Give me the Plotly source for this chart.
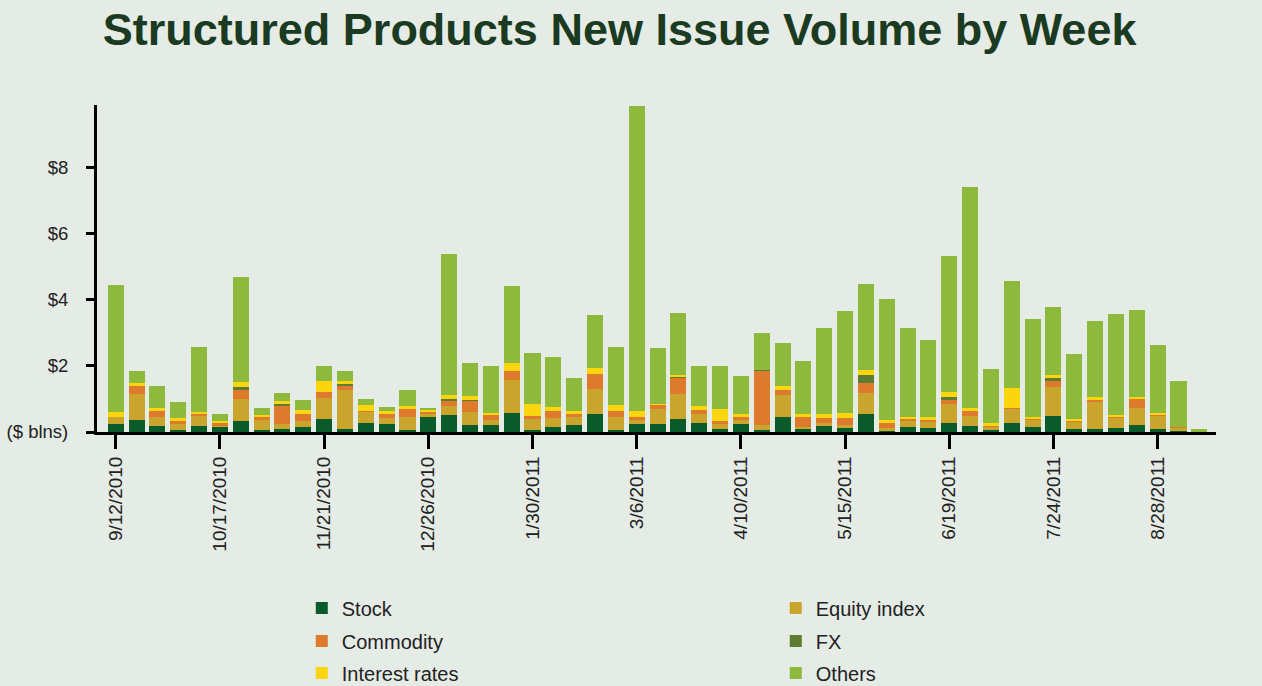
import plotly.graph_objects as go

weeks = [
    "9/12/2010", "9/19/2010", "9/26/2010", "10/3/2010", "10/10/2010", "10/17/2010", "10/24/2010",
    "10/31/2010", "11/7/2010", "11/14/2010", "11/21/2010", "11/28/2010", "12/5/2010", "12/12/2010",
    "12/19/2010", "12/26/2010", "1/2/2011", "1/9/2011", "1/16/2011", "1/23/2011", "1/30/2011",
    "2/6/2011", "2/13/2011", "2/20/2011", "2/27/2011", "3/6/2011", "3/13/2011", "3/20/2011",
    "3/27/2011", "4/3/2011", "4/10/2011", "4/17/2011", "4/24/2011", "5/1/2011", "5/8/2011",
    "5/15/2011", "5/22/2011", "5/29/2011", "6/5/2011", "6/12/2011", "6/19/2011", "6/26/2011",
    "7/3/2011", "7/10/2011", "7/17/2011", "7/24/2011", "7/31/2011", "8/7/2011", "8/14/2011",
    "8/21/2011", "8/28/2011", "9/4/2011", "9/11/2011",
]

tick_labels = ["9/12/2010", "10/17/2010", "11/21/2010", "12/26/2010", "1/30/2011", "3/6/2011",
               "4/10/2011", "5/15/2011", "6/19/2011", "7/24/2011", "8/28/2011"]

stock = [0.23, 0.35, 0.17, 0.05, 0.17, 0.14, 0.32, 0.07, 0.08, 0.14,
         0.38, 0.10, 0.28, 0.25, 0.06, 0.48, 0.50, 0.20, 0.20, 0.58,
         0.07, 0.16, 0.22, 0.56, 0.07, 0.25, 0.23, 0.38, 0.28, 0.09,
         0.24, 0.07, 0.44, 0.08, 0.18, 0.11, 0.54, 0.03, 0.14, 0.13,
         0.26, 0.19, 0.07, 0.28, 0.14, 0.48, 0.09, 0.10, 0.12, 0.20,
         0.08, 0.02, 0.00]

equity_index = [0.21, 0.81, 0.27, 0.22, 0.32, 0.07, 0.68, 0.29, 0.17, 0.20,
                0.65, 1.18, 0.33, 0.16, 0.38, 0.06, 0.28, 0.41, 0.16, 0.99,
                0.34, 0.25, 0.24, 0.74, 0.38, 0.14, 0.46, 0.76, 0.28, 0.14,
                0.14, 0.13, 0.69, 0.08, 0.08, 0.10, 0.65, 0.10, 0.20, 0.18,
                0.58, 0.29, 0.10, 0.43, 0.25, 0.87, 0.24, 0.82, 0.32, 0.52,
                0.43, 0.11, 0.00]

commodity = [0.00, 0.22, 0.19, 0.05, 0.05, 0.05, 0.27, 0.08, 0.55, 0.22,
             0.18, 0.14, 0.03, 0.14, 0.28, 0.09, 0.16, 0.33, 0.15, 0.27,
             0.06, 0.23, 0.07, 0.45, 0.18, 0.06, 0.14, 0.52, 0.10, 0.10,
             0.06, 1.65, 0.15, 0.30, 0.17, 0.20, 0.28, 0.13, 0.07, 0.05,
             0.12, 0.15, 0.03, 0.03, 0.02, 0.19, 0.03, 0.07, 0.03, 0.28,
             0.03, 0.03, 0.00]

fx = [0.00, 0.00, 0.00, 0.00, 0.00, 0.00, 0.09, 0.00, 0.04, 0.00,
      0.00, 0.05, 0.00, 0.00, 0.00, 0.00, 0.06, 0.02, 0.00, 0.00,
      0.00, 0.00, 0.00, 0.00, 0.00, 0.00, 0.00, 0.02, 0.00, 0.00,
      0.00, 0.04, 0.00, 0.00, 0.00, 0.00, 0.27, 0.00, 0.00, 0.00,
      0.11, 0.00, 0.00, 0.00, 0.00, 0.12, 0.00, 0.00, 0.00, 0.00,
      0.00, 0.00, 0.00]

interest_rates = [0.16, 0.10, 0.10, 0.09, 0.07, 0.07, 0.14, 0.07, 0.10, 0.10,
                  0.33, 0.06, 0.17, 0.09, 0.06, 0.06, 0.12, 0.13, 0.07, 0.26,
                  0.37, 0.12, 0.10, 0.19, 0.18, 0.20, 0.03, 0.05, 0.13, 0.36,
                  0.10, 0.00, 0.11, 0.08, 0.10, 0.18, 0.15, 0.09, 0.03, 0.10,
                  0.14, 0.11, 0.06, 0.58, 0.05, 0.06, 0.03, 0.06, 0.05, 0.07,
                  0.04, 0.00, 0.00]

others = [3.84, 0.38, 0.67, 0.49, 1.95, 0.20, 3.19, 0.21, 0.24, 0.31,
          0.46, 0.31, 0.19, 0.11, 0.50, 0.03, 4.27, 1.00, 1.42, 2.31,
          1.56, 1.52, 0.99, 1.59, 1.75, 9.23, 1.67, 1.86, 1.21, 1.31,
          1.17, 1.10, 1.29, 1.62, 2.62, 3.06, 2.58, 3.67, 2.71, 2.34,
          4.13, 6.69, 1.64, 3.26, 2.97, 2.06, 1.98, 2.32, 3.04, 2.61,
          2.06, 1.37, 0.10]

y_ticks = [0, 2, 4, 6, 8]
y_tick_text = ["($ blns)", "$2", "$4", "$6", "$8"]

# (name, values, colour, legend row) -- stacking order bottom to top
series = [
    ("Stock", stock, "#0b5a2c", "legend"),
    ("Equity index", equity_index, "#c9a52e", "legend"),
    ("Commodity", commodity, "#de7a2b", "legend2"),
    ("FX", fx, "#5d7c31", "legend2"),
    ("Interest rates", interest_rates, "#fbd60e", "legend3"),
    ("Others", others, "#8dba3c", "legend3"),
]

BG = "#e5ebe5"
FONT = "Liberation Sans, Arial, sans-serif"

fig = go.Figure()
for name, vals, color, leg in series:
    fig.add_trace(go.Bar(x=weeks, y=vals, name=name, legend=leg,
                         marker=dict(color=color, line=dict(width=0))))

def legend_row(ypos):
    return dict(orientation="h", x=0.183, y=ypos, xanchor="left", yanchor="middle",
                traceorder="normal", entrywidth=429, entrywidthmode="pixels",
                font=dict(family=FONT, size=20, color="#222222"),
                bgcolor="rgba(0,0,0,0)")

fig.update_layout(
    width=1262, height=686,
    barmode="stack", bargap=0.23,
    paper_bgcolor=BG, plot_bgcolor=BG,
    font=dict(family=FONT, color="#222222"),
    margin=dict(l=97, r=46, t=105, b=254, autoexpand=False),
    title=dict(text="<b>Structured Products New Issue Volume by Week</b>",
               x=0.491, xanchor="center", y=0.957, yanchor="middle",
               font=dict(family=FONT, size=45, color="#1b3a22")),
    xaxis=dict(type="category", range=[-0.9, 52.8],
               tickmode="array", tickvals=tick_labels, ticktext=tick_labels,
               tickangle=-90, ticks="outside", ticklen=14, tickwidth=3, tickcolor="black",
               showline=True, linecolor="black", linewidth=3,
               showgrid=False, zeroline=False,
               tickfont=dict(size=19, color="#222222")),
    yaxis=dict(range=[0, 9.9], tickmode="array", tickvals=y_ticks, ticktext=y_tick_text,
               ticks="outside", ticklen=8, tickwidth=3, tickcolor="black",
               showline=True, linecolor="black", linewidth=3,
               showgrid=False, zeroline=False, ticklabelstandoff=14,
               tickfont=dict(size=18.5, color="#222222")),
    legend=legend_row(-0.538),
    legend2=legend_row(-0.639),
    legend3=legend_row(-0.737),
)

fig.write_html("out.html")
